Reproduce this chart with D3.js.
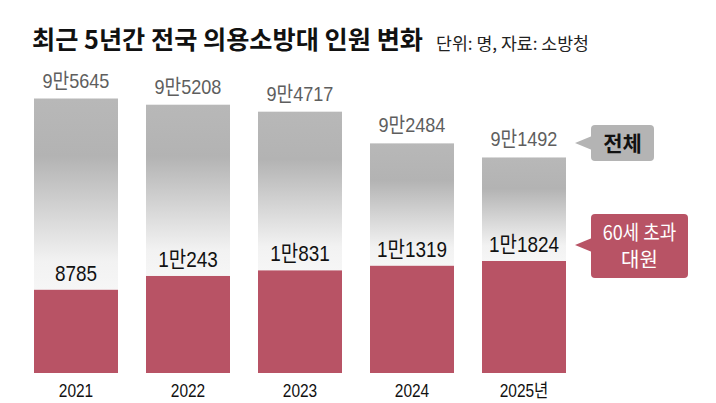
<!DOCTYPE html>
<html>
<head>
<meta charset="utf-8">
<script src="https://cdn.jsdelivr.net/npm/d3@7"></script>
<style>
  body { margin: 0; background: #fff; }
  svg { display: block; }
  .num { font-family: "Liberation Sans", "Noto Sans CJK KR", sans-serif; }
</style>
</head>
<body>
<svg id="chart" width="716" height="403"></svg>
<script>
//chart data
const years = ["2021", "2022", "2023", "2024", "2025"];
const totalMembers = [95645, 95208, 94717, 92484, 91492];
const over60Members = [8785, 10243, 10831, 11319, 11824];

const svg = d3.select('#chart');
const width = 716, height = 403;
const baseY = 373;

//korean number style: 9만5645
function fmt(v) {
    if (v >= 10000) { return `${Math.floor(v / 10000)}만${v % 10000}` }
    return `${v}`;
}

//make text narrower, like the condensed font of the original
function squeeze(sel, k) {
    sel.each(function() {
        const w = this.getComputedTextLength();
        d3.select(this)
            .attr('textLength', w * k)
            .attr('lengthAdjust', 'spacingAndGlyphs');
    });
}

const x = d3.scaleBand()
    .domain(years)
    .range([20, 580])
    .paddingInner(0.25)
    .paddingOuter(0.125);

//the total bars use a cut axis, the over-60 bars start at zero
const yTotal = d3.scaleLinear()
    .domain([76310, 95645])
    .range([baseY, 98.5]);

const yOld = d3.scaleLinear()
    .domain([0, 11824])
    .range([baseY, 261]);

//gradient for the grey bars
const defs = svg.append('defs');
const grad = defs.append('linearGradient')
    .attr('id', 'greyGrad')
    .attr('x1', 0).attr('y1', 0).attr('x2', 0).attr('y2', 1);
grad.append('stop').attr('offset', '0%').attr('stop-color', '#b8b8b8');
grad.append('stop').attr('offset', '30%').attr('stop-color', '#b3b3b3');
grad.append('stop').attr('offset', '62%').attr('stop-color', '#d8d8d8');
grad.append('stop').attr('offset', '85%').attr('stop-color', '#f2f2f2');
grad.append('stop').attr('offset', '100%').attr('stop-color', '#f6f6f6');

//title
svg.append('text')
    .attr('x', 32)
    .attr('y', 49)
    .style('font', 'bold 25px "Noto Sans CJK KR", sans-serif')
    .attr('fill', '#111')
    .text('최근 5년간 전국 의용소방대 인원 변화')
    .call(s => s.attr('textLength', 391).attr('lengthAdjust', 'spacingAndGlyphs'));

svg.append('text')
    .attr('x', 436)
    .attr('y', 50)
    .style('font', '17px "Noto Sans CJK KR", sans-serif')
    .attr('fill', '#222')
    .text('단위: 명, 자료: 소방청')
    .call(s => s.attr('textLength', 153).attr('lengthAdjust', 'spacingAndGlyphs'));

const rows = years.map((y, i) => ({year: y, total: totalMembers[i], old: over60Members[i]}));

//grey total bars (drawn down to the red part)
svg.append('g')
    .selectAll('rect')
    .data(rows)
    .join('rect')
        .attr('x', d => x(d.year))
        .attr('y', d => yTotal(d.total))
        .attr('width', x.bandwidth())
        .attr('height', d => yOld(d.old) - yTotal(d.total))
        .attr('fill', 'url(#greyGrad)');

//red over-60 bars
svg.append('g')
    .attr('fill', '#b85365')
    .selectAll('rect')
    .data(rows)
    .join('rect')
        .attr('x', d => x(d.year))
        .attr('y', d => yOld(d.old))
        .attr('width', x.bandwidth())
        .attr('height', d => baseY - yOld(d.old));

//total labels
svg.append('g')
    .attr('class', 'num')
    .attr('text-anchor', 'middle')
    .attr('fill', '#5e5e5e')
    .style('font-size', '21px')
    .selectAll('text')
    .data(rows)
    .join('text')
        .attr('x', d => x(d.year) + x.bandwidth() / 2)
        .attr('y', d => yTotal(d.total) - 11)
        .text(d => fmt(d.total))
        .call(squeeze, 0.86);

//over-60 labels
svg.append('g')
    .attr('class', 'num')
    .attr('text-anchor', 'middle')
    .attr('fill', '#111')
    .style('font-size', '22px')
    .selectAll('text')
    .data(rows)
    .join('text')
        .attr('x', d => x(d.year) + x.bandwidth() / 2)
        .attr('y', d => yOld(d.old) - 9)
        .text(d => fmt(d.old))
        .call(squeeze, 0.86);

//year axis
const xAxis = d3.axisBottom(x)
    .tickSize(0)
    .tickFormat((d, i) => i === years.length - 1 ? d + '년' : d);

svg.append('g')
    .attr('transform', `translate(0,${baseY})`)
    .call(xAxis)
    .call(g => g.select('.domain').remove())
    .call(g => g.selectAll('text')
        .attr('class', 'num')
        .attr('y', 0)
        .attr('dy', 24)
        .attr('fill', '#111')
        .style('font-size', '18px')
        .call(squeeze, 0.86));

//callouts
function callout(cx, top, w, h, tipY, fill) {
    const g = svg.append('g');
    g.append('rect')
        .attr('x', cx).attr('y', top)
        .attr('width', w).attr('height', h)
        .attr('rx', 4)
        .attr('fill', fill);
    g.append('path')
        .attr('d', `M${cx + 1},${tipY - 7} L${cx - 16},${tipY} L${cx + 1},${tipY + 7} Z`)
        .attr('fill', fill);
    return g;
}

const lastX = x(years[years.length - 1]) + x.bandwidth();
const c1 = callout(lastX + 25, 125, 63, 36, 143, '#b4b4b4');
c1.append('text')
    .attr('x', lastX + 25 + 31.5)
    .attr('y', 151)
    .attr('text-anchor', 'middle')
    .style('font', 'bold 21px "Noto Sans CJK KR", sans-serif')
    .attr('fill', '#111')
    .text('전체');

const c2 = callout(lastX + 25, 214, 97, 64, 245, '#b85365');
c2.append('text')
    .attr('x', lastX + 25 + 48.5)
    .attr('y', 240)
    .attr('text-anchor', 'middle')
    .style('font', '20px "Noto Sans CJK KR", sans-serif')
    .attr('fill', '#fff')
    .text('60세 초과')
    .call(squeeze, 0.9);
c2.append('text')
    .attr('x', lastX + 25 + 48.5)
    .attr('y', 267)
    .attr('text-anchor', 'middle')
    .style('font', '20px "Noto Sans CJK KR", sans-serif')
    .attr('fill', '#fff')
    .text('대원');
</script>
</body>
</html>
